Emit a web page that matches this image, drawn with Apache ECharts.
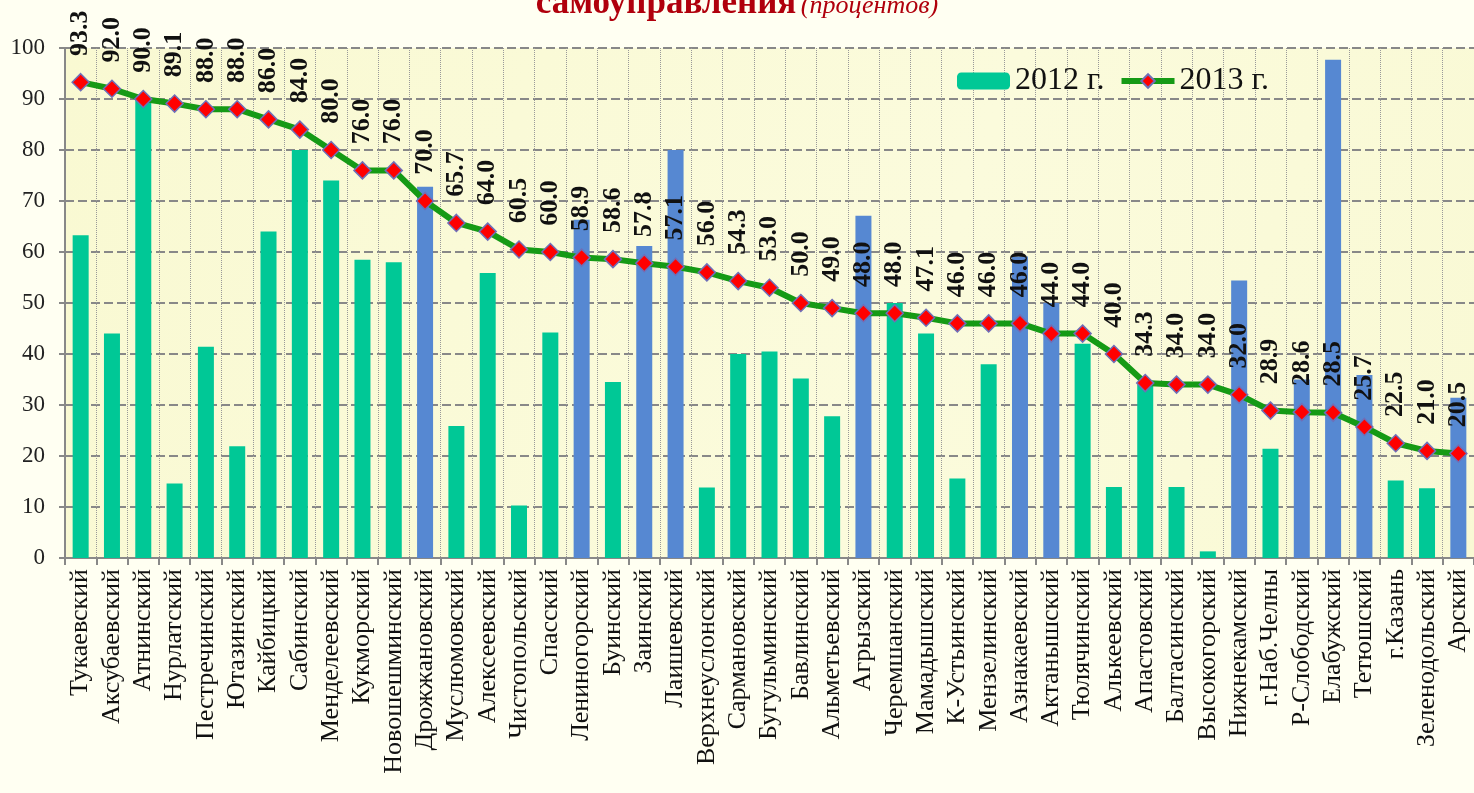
<!DOCTYPE html>
<html>
<head>
<meta charset="utf-8">
<script src="https://cdn.jsdelivr.net/npm/echarts@6/dist/echarts.min.js"></script>
<style>
  html, body {margin: 0; padding: 0; background: #fffff2;}
  #chart {width: 1474px; height: 793px;}
</style>
</head>
<body>
<div id="chart"></div>
<script>
const districts = ['Тукаевский','Аксубаевский','Атнинский','Нурлатский','Пестречинский','Ютазинский','Кайбицкий',
  'Сабинский','Менделеевский','Кукморский','Новошешминский','Дрожжановский','Муслюмовский','Алексеевский',
  'Чистопольский','Спасский','Лениногорский','Буинский','Заинский','Лаишевский','Верхнеуслонский','Сармановский',
  'Бугульминский','Бавлинский','Альметьевский','Агрызский','Черемшанский','Мамадышский','К-Устьинский',
  'Мензелинский','Азнакаевский','Актанышский','Тюлячинский','Алькеевский','Апастовский','Балтасинский',
  'Высокогорский','Нижнекамский','г.Наб.Челны','Р-Слободский','Елабужский','Тетюшский','г.Казань',
  'Зеленодольский','Арский']

const values2012 = [63.3, 44.0, 90.0, 14.6, 41.4, 21.9, 64.0, 80.0, 74.0, 58.5, 58.0, 72.8, 25.9, 55.9,
  10.3, 44.2, 66.3, 34.5, 61.2, 80.0, 13.8, 40.0, 40.5, 35.2, 27.8, 67.1, 50.0, 44.0, 15.6,
  38.0, 59.1, 50.0, 42.0, 13.9, 34.0, 13.9, 1.3, 54.4, 21.4, 35.0, 97.7, 35.9, 15.2, 13.7, 31.4]

const values2013 = [93.3, 92.0, 90.0, 89.1, 88.0, 88.0, 86.0, 84.0, 80.0, 76.0, 76.0, 70.0, 65.7, 64.0,
  60.5, 60.0, 58.9, 58.6, 57.8, 57.1, 56.0, 54.3, 53.0, 50.0, 49.0, 48.0, 48.0, 47.1, 46.0,
  46.0, 46.0, 44.0, 44.0, 40.0, 34.3, 34.0, 34.0, 32.0, 28.9, 28.6, 28.5, 25.7, 22.5, 21.0, 20.5]

// районы, где показатель снизился (синие столбики)
const declined = ['Дрожжановский','Лениногорский','Заинский','Лаишевский','Агрызский','Азнакаевский',
  'Актанышский','Нижнекамский','Р-Слободский','Елабужский','Тетюшский','Арский']

const font = 'Liberation Serif, Times New Roman, serif'
const green = '#00c896'
const blue = '#5688d2'

const myChart = echarts.init(document.getElementById('chart'))
myChart.setOption({
  backgroundColor: '#fffff2',
  textStyle: {fontFamily: font},
  animation: false,
  title: {
    text: '{a|самоуправления} {b|(процентов)}',
    left: 'center',
    top: -19,
    textStyle: {
      rich: {
        a: {fontFamily: font, fontSize: 35, fontWeight: 'bold', color: '#b0000c', verticalAlign: 'bottom'},
        b: {fontFamily: font, fontSize: 26, fontStyle: 'italic', fontWeight: 'normal', color: '#b0000c', verticalAlign: 'bottom', padding: [0, 0, 2, 0]}
      }
    }
  },
  legend: {
    left: 957,
    top: 65,
    padding: 0,
    itemWidth: 53,
    itemHeight: 17,
    itemGap: 14,
    textStyle: {fontFamily: font, fontSize: 32, color: '#111'},
    data: [
      {name: '2012 г.', itemStyle: {color: green}},
      {name: '2013 г.', lineStyle: {width: 6, color: '#159a15'}}
    ]
  },
  grid: {
    left: 65,
    right: 0,
    top: 48,
    bottom: 235,
    show: true,
    borderWidth: 0,
    backgroundColor: {
      type: 'linear', x: 0, y: 0, x2: 1, y2: 1,
      colorStops: [
        {offset: 0, color: '#f9f9d2'},
        {offset: 0.6, color: '#fbfbdc'},
        {offset: 1, color: '#f9f9d4'}
      ]
    }
  },
  xAxis: {
    type: 'category',
    data: districts,
    boundaryGap: true,
    axisLine: {lineStyle: {color: '#888', width: 2}},
    axisTick: {show: true, length: 7, lineStyle: {color: '#888', width: 2}},
    splitLine: {show: true, lineStyle: {color: '#999', width: 1, type: 'dotted'}},
    axisLabel: {
      rotate: 90,
      interval: 0,
      margin: 11,
      fontFamily: font,
      fontSize: 26,
      color: '#111'
    }
  },
  yAxis: {
    type: 'value',
    min: 0,
    max: 100,
    interval: 10,
    axisLine: {show: true, lineStyle: {color: '#888', width: 2}},
    axisTick: {show: true, length: 6, lineStyle: {color: '#888', width: 2}},
    splitLine: {lineStyle: {color: '#888', width: 2, type: [9, 4]}},
    axisLabel: {fontFamily: font, fontSize: 23, color: '#222', margin: 20}
  },
  series: [
    {
      name: '2012 г.',
      type: 'bar',
      barWidth: 16,
      data: values2012,
      itemStyle: {
        color: p => declined.includes(districts[p.dataIndex]) ? blue : green
      },
      z: 2
    },
    {
      name: '2013 г.',
      type: 'line',
      data: values2013,
      symbol: 'diamond',
      symbolSize: 17,
      lineStyle: {color: '#159a15', width: 6},
      itemStyle: {color: '#ff0000', borderColor: '#6f6fb8', borderWidth: 1.5},
      label: {
        show: true,
        position: 'top',
        distance: 17,
        rotate: 90,
        align: 'left',
        verticalAlign: 'middle',
        fontFamily: font,
        fontSize: 26,
        fontWeight: 'bold',
        color: '#111',
        formatter: p => p.value.toFixed(1)
      },
      z: 3
    }
  ]
})
</script>
</body>
</html>
